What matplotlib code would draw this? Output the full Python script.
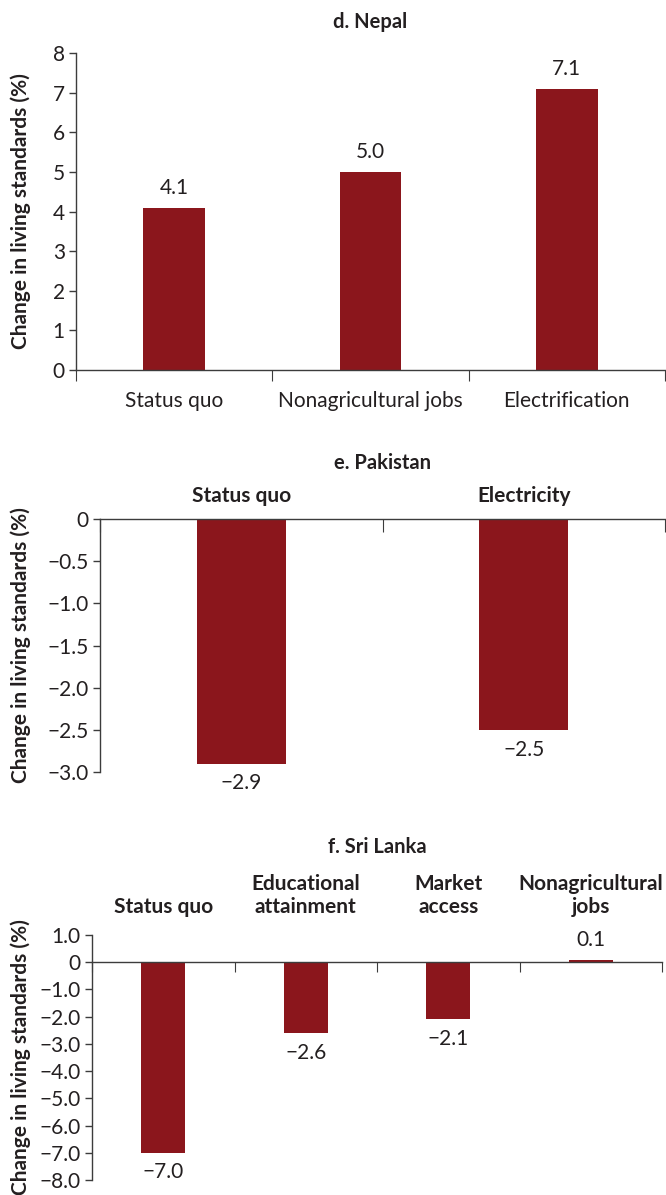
import matplotlib
matplotlib.use("Agg")
import matplotlib.pyplot as plt
from matplotlib.ticker import FixedLocator, FixedFormatter

# --- data -------------------------------------------------------------
nepal_categories = ["Status quo", "Nonagricultural jobs", "Electrification"]
nepal_values = [4.1, 5.0, 7.1]
nepal_yticks = [0, 1, 2, 3, 4, 5, 6, 7, 8]
nepal_yticklabels = ["0", "1", "2", "3", "4", "5", "6", "7", "8"]

pakistan_categories = ["Status quo", "Electricity"]
pakistan_values = [-2.9, -2.5]
pakistan_yticks = [0, -0.5, -1.0, -1.5, -2.0, -2.5, -3.0]
pakistan_yticklabels = ["0", "\u22120.5", "\u22121.0", "\u22121.5", "\u22122.0", "\u22122.5", "\u22123.0"]

srilanka_categories = ["Status quo", "Educational\nattainment", "Market\naccess", "Nonagricultural\njobs"]
srilanka_values = [-7.0, -2.6, -2.1, 0.1]
srilanka_yticks = [1, 0, -1, -2, -3, -4, -5, -6, -7, -8]
srilanka_yticklabels = ["1.0", "0", "\u22121.0", "\u22122.0", "\u22123.0", "\u22124.0",
                        "\u22125.0", "\u22126.0", "\u22127.0", "\u22128.0"]

ylabel_text = "Change in living standards (%)"

# --- style ------------------------------------------------------------
FONT = ["Lato", "DejaVu Sans"]
plt.rcParams["font.family"] = FONT
BAR = "#8B161C"
AXC = "#3c3c3c"
TXT = "#231f20"
FS = 15
TFS = 14.5
W, H = 666, 1195

fig = plt.figure(figsize=(W / 100, H / 100), dpi=100)


def px_axes(left, top, right, bottom):
    return fig.add_axes([left / W, 1 - bottom / H, (right - left) / W, (bottom - top) / H])


def fmt_value(v):
    s = f"{abs(v):.1f}"
    return ("\u2212" + s) if v < 0 else s


def style_common(ax, yticks, yticklabels):
    ax.yaxis.set_major_locator(FixedLocator(yticks))
    ax.yaxis.set_major_formatter(FixedFormatter(yticklabels))
    ax.tick_params(axis="y", direction="out", length=5, width=1, color=AXC,
                   labelsize=FS, labelcolor=TXT, pad=3)
    for s in ax.spines.values():
        s.set_color(AXC)
        s.set_linewidth(1)
    ax.spines["right"].set_visible(False)


def label_bars(ax, xs, vals, offset=7):
    for x, v in zip(xs, vals):
        if v >= 0:
            ax.annotate(fmt_value(v), (x, v), xytext=(0, offset), textcoords="offset points",
                        ha="center", va="bottom", fontsize=FS, color=TXT)
        else:
            ax.annotate(fmt_value(v), (x, v), xytext=(0, -offset), textcoords="offset points",
                        ha="center", va="top", fontsize=FS, color=TXT)


def ylabel(top, bottom):
    fig.text(21 / W, 1 - (top + bottom) / 2 / H, ylabel_text, rotation=90, ha="center",
             va="center", fontsize=FS, fontweight="bold", color=TXT)


def title(text, left, right, baseline):
    fig.text((left + right) / 2 / W, 1 - baseline / H, text, ha="center", va="baseline",
             fontsize=TFS, fontweight="bold", color=TXT)


BW = 0.315

# --- d. Nepal ---------------------------------------------------------
ax = px_axes(76, 53, 665, 370)
x = list(range(len(nepal_categories)))
ax.bar(x, nepal_values, width=BW, color=BAR)
ax.set_xlim(-0.5, len(x) - 0.5)
ax.set_ylim(0, 8)
style_common(ax, nepal_yticks, nepal_yticklabels)
ax.spines["top"].set_visible(False)
ax.set_xticks([i - 0.5 for i in range(len(x) + 1)])
ax.set_xticklabels([])
ax.set_xticks(x, minor=True)
ax.set_xticklabels(nepal_categories, minor=True)
ax.tick_params(axis="x", which="major", direction="out", length=8, color=AXC)
ax.tick_params(axis="x", which="minor", length=0, labelsize=FS, labelcolor=TXT, pad=15)
label_bars(ax, x, nepal_values)
title("d. Nepal", 76, 665, 28)
ylabel(53, 370)

# --- e. Pakistan ------------------------------------------------------
ax = px_axes(100, 519, 665, 772)
x = list(range(len(pakistan_categories)))
ax.bar(x, pakistan_values, width=0.315, color=BAR)
ax.set_xlim(-0.5, len(x) - 0.5)
ax.set_ylim(-3, 0)
style_common(ax, pakistan_yticks, pakistan_yticklabels)
ax.spines["bottom"].set_visible(False)
ax.xaxis.tick_top()
ax.set_xticks([i - 0.5 for i in range(len(x) + 1)])
ax.set_xticklabels([])
ax.set_xticks(x, minor=True)
ax.set_xticklabels(pakistan_categories, minor=True, fontweight="bold")
ax.tick_params(axis="x", which="major", direction="in", length=9, color=AXC)
ax.tick_params(axis="x", which="minor", length=0, labelsize=FS, labelcolor=TXT, pad=9)
label_bars(ax, x, pakistan_values)
title("e. Pakistan", 100, 665, 469)
ylabel(519, 772)

# --- f. Sri Lanka -----------------------------------------------------
ax = px_axes(92, 935, 662, 1180)
x = list(range(len(srilanka_categories)))
ax.bar(x, srilanka_values, width=0.31, color=BAR)
ax.set_xlim(-0.5, len(x) - 0.5)
ax.set_ylim(-8, 1)
style_common(ax, srilanka_yticks, srilanka_yticklabels)
ax.spines["top"].set_visible(False)
ax.spines["bottom"].set_position(("data", 0))
ax.set_xticks([i - 0.5 for i in range(len(x) + 1)])
ax.set_xticklabels([])
ax.tick_params(axis="x", which="major", direction="out", length=7, color=AXC)
top = ax.secondary_xaxis("top")
top.spines["top"].set_visible(False)
top.set_xticks(x)
top.set_xticklabels(srilanka_categories, fontweight="bold", linespacing=1.2)
top.tick_params(axis="x", length=0, labelsize=FS, labelcolor=TXT, pad=13)
label_bars(ax, x, srilanka_values)
title("f. Sri Lanka", 92, 662, 853)
ylabel(935, 1180)

fig.savefig("out.png", dpi=100)
